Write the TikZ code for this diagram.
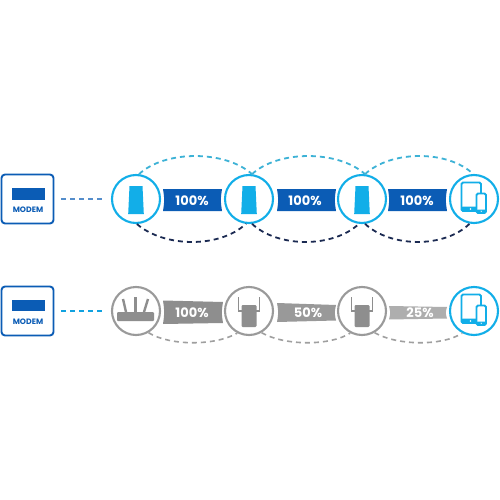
\documentclass[tikz,border=0pt]{standalone}
\usepackage{fontspec}
\setmainfont{Poppins}
\definecolor{lsblue}{HTML}{0B5CB5}
\definecolor{lscyan}{HTML}{12AEE8}
\definecolor{lsnavy}{HTML}{1B2A52}
\definecolor{lsdash}{HTML}{3DB2D6}
\definecolor{lsgray}{HTML}{8E8E8E}
\definecolor{lsring}{HTML}{9A9A9A}
\tikzset{
  x=1pt,y=-1pt,
  modembox/.style={draw=lsblue,line width=1.9pt,rounded corners=3.5pt,minimum width=52pt,minimum height=49pt,inner sep=0,fill=white},
  ring/.style={circle,line width=2.1pt,inner sep=0,minimum size=48pt,fill=white},
  cyanring/.style={ring,draw=lscyan},
  grayring/.style={ring,draw=lsring},
  pct/.style={text=white,font=\bfseries\fontsize{13}{15}\selectfont,inner sep=0},
  modemtext/.style={text=lsblue,font=\bfseries\fontsize{7.8}{9}\selectfont,inner sep=0},
  linkline/.style={dash pattern=on 5pt off 4pt,line width=1.8pt},
  arcgray/.style={dash pattern=on 5pt off 4pt,line width=1.6pt,draw=lsgray!85},
}
\newcommand{\bannerband}[7]{% colour x1 x2 lefttop leftbot righttop rightbot
  \fill[#1] (#2,#4) -- (#3,#6) .. controls (#3-1.6,#6/2+#7/2) .. (#3,#7) -- (#2,#5) .. controls (#2+1.6,#4/2+#5/2) .. cycle;
}
\newcommand{\towerdev}[2]{%
  \fill[lscyan] (#1-6.5,#2-13) -- (#1+6.5,#2-13) -- (#1+7.8,#2+15) -- (#1-7.8,#2+15) -- cycle;
}
\newcommand{\extender}[2]{%
  \fill[lsgray,rounded corners=1.2pt] (#1-7.5,#2-6) rectangle (#1+7.5,#2+16);
  \draw[lsgray,line width=1.8pt] (#1-10.5,#2-14) -- (#1-10.5,#2) -- (#1-7,#2);
  \draw[lsgray,line width=1.8pt] (#1+10.5,#2-14) -- (#1+10.5,#2) -- (#1+7,#2);
}
\newcommand{\handsets}[2]{%
  \draw[lscyan,line width=1.9pt,rounded corners=1.5pt,fill=white] (#1-11.5,#2-15.5) rectangle (#1+8,#2+13);
  \fill[lscyan,rounded corners=1pt] (#1-11.5,#2+8.5) rectangle (#1+8,#2+13.5);
  \draw[lscyan,line width=1.9pt,rounded corners=1.5pt,fill=white] (#1+3.5,#2-4.5) rectangle (#1+13,#2+15);
  \fill[lscyan,rounded corners=1pt] (#1+3.5,#2+11.5) rectangle (#1+13,#2+15);
  \fill[white] (#1-2.5,#2+11) circle (0.8);
  \fill[white] (#1+8.2,#2+13.2) circle (0.7);
}
\begin{document}
\begin{tikzpicture}
\useasboundingbox (0,0) rectangle (500,500);
\fill[white] (0,0) rectangle (500,500);

% top row
\node[modembox] (m1) at (27.5,199) {};
\fill[lsblue] (12,188) rectangle (45,200);
\node[modemtext] (m1t) at (28,210) {MODEM};
\node[cyanring] (a1) at (136,199) {};
\node[cyanring] (a2) at (249,199) {};
\node[cyanring] (a3) at (362,199) {};
\node[cyanring] (a4) at (474,199) {};
\draw[lsblue!70!white,linkline,shorten >=7pt,shorten <=7pt] (m1.east) -- (a1.west);
\draw[lsdash,linkline] (a1.83) .. controls (165,150) and (225,150) .. (a2.83);
\draw[lsdash,linkline] (a2.83) .. controls (278,150) and (338,150) .. (a3.83);
\draw[lsdash,linkline] (a3.83) .. controls (391,150) and (448,150) .. (a4.92);
\draw[lsnavy,linkline] (a1.-88) .. controls (165,248) and (220,248) .. (a2.-97);
\draw[lsnavy,linkline] (a2.-83) .. controls (278,248) and (333,248) .. (a3.-97);
\draw[lsnavy,linkline] (a3.-83) .. controls (391,248) and (445,248) .. (a4.-100);
\towerdev{136}{199}
\towerdev{249}{199}
\towerdev{362}{199}
\handsets{473}{198}
\bannerband{lsblue}{163}{222}{189}{211}{189}{211}
\bannerband{lsblue}{277}{336}{189}{211}{189}{211}
\bannerband{lsblue}{388}{447}{189}{211}{189}{211}
\node[pct] (p1) at (192,200.5) {100\%};
\node[pct] (p2) at (305,200.5) {100\%};
\node[pct] (p3) at (417,200.5) {100\%};

% bottom row
\node[modembox] (m2) at (27.5,311) {};
\fill[lsblue] (12,300) rectangle (45,311);
\node[modemtext] (m2t) at (28,322) {MODEM};
\node[grayring] (b1) at (136,311) {};
\node[grayring] (b2) at (249,311) {};
\node[grayring] (b3) at (362,311) {};
\node[cyanring] (b4) at (474,311) {};
\draw[lscyan!85!lsblue,linkline,shorten >=7pt,shorten <=7pt] (m2.east) -- (b1.west);
\draw[arcgray] (b1.-60) .. controls (170,346) and (215,346) .. (b2.-118);
\draw[arcgray] (b2.-60) .. controls (285,346) and (330,346) .. (b3.-118);
\draw[arcgray] (b3.-60) .. controls (398,346) and (443,346) .. (b4.-118);
\fill[lsgray,rounded corners=1pt] (117,312) rectangle (154,321);
\draw[lsgray,line width=2.4pt] (126,312) -- (123,299);
\draw[lsgray,line width=2.4pt] (135.5,312) -- (135.5,297);
\draw[lsgray,line width=2.4pt] (144,312) -- (148,299);
\extender{249}{311}
\extender{362}{311}
\handsets{473}{310}
\bannerband{lsgray}{163}{223}{300.5}{324}{302}{323}
\bannerband{lsgray!90}{277}{336}{303}{322}{305}{320.5}
\bannerband{lsgray!72}{389}{447}{306}{319.5}{307}{318.5}
\node[pct] (q1) at (192,313) {100\%};
\node[pct] (q2) at (308,313) {50\%};
\node[pct] (q3) at (420,313) {25\%};
\end{tikzpicture}
\end{document}
